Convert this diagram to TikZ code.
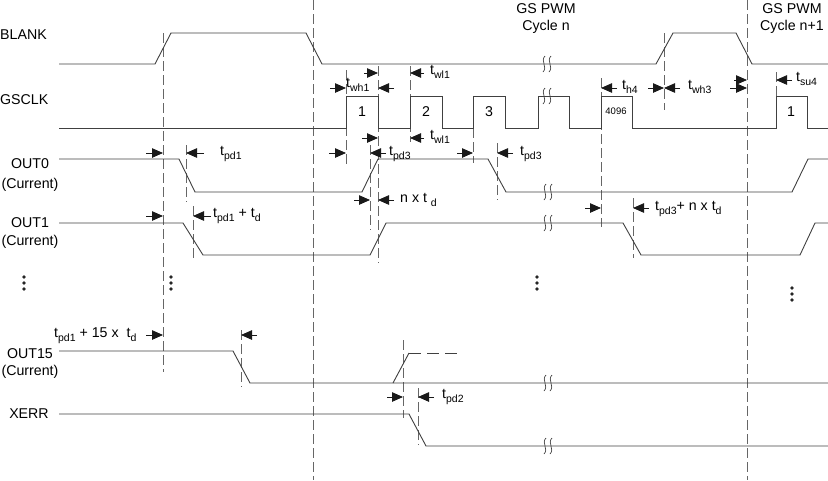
\documentclass[tikz,border=0pt]{standalone}
\usepackage{fontspec}
\setmainfont{Liberation Sans}
\usetikzlibrary{arrows.meta}

\tikzset{
  sig/.style={line width=0.9pt, black!75},
  tim/.style={line width=0.8pt, black!60, dash pattern=on 10pt off 4pt},
  dim/.style={line width=0.8pt, black!90, -{Triangle[length=11pt,width=9.5pt]}},
  lbl/.style={font=\fontsize{14.2}{17}\selectfont, inner sep=0pt},
  tlbl/.style={lbl, anchor=west},
}
\newcommand{\tsub}[1]{\raisebox{-0.3em}{\fontsize{10.5}{12}\selectfont #1}}
\newcommand{\gsbreak}[1]{%
  \foreach \d in {-3,3}
  {\draw[sig, line width=0.7pt, shift={(#1)}, xshift=\d pt] (1,-8) .. controls (-4,-3) and (4,3) .. (-1,8);}}

\begin{document}
\begin{tikzpicture}[x=1pt,y=-1pt]
\useasboundingbox (0,0) rectangle (828,480);

% timing references
\draw[tim] (163,33) -- (163,372);
\draw[tim] (313,0) -- (313,480);
\draw[tim] (747,0) -- (747,480);
\draw[tim] (664,33) -- (664,110);
\draw[tim] (186,145) -- (186,202);
\draw[tim] (193,206) -- (193,258);
\draw[tim] (346,70) -- (346,165);
\draw[tim] (378,66) -- (378,263);
\draw[tim] (410,66) -- (410,142);
\draw[tim] (370,145) -- (370,230);
\draw[tim] (473,128) -- (473,163);
\draw[tim] (497,143) -- (497,200);
\draw[tim] (601,78) -- (601,227);
\draw[tim] (633,198) -- (633,258);
\draw[tim] (776,72) -- (776,96);
\draw[tim] (241,330) -- (241,387);
\draw[tim] (403,340) -- (403,418);
\draw[tim] (418,388) -- (418,445);

% signals
\draw[sig] (59,64) -- (155,64) -- (171,33) -- (306,33) -- (322,64) -- (656,64) -- (673,33) -- (736,33) -- (752,64) -- (828,64);
\draw[sig] (59,128) -- (346,128) -- (346,96) -- (378,96) -- (378,128) -- (410,128) -- (410,96) -- (442,96) -- (442,128)
  -- (473,128) -- (473,96) -- (505,96) -- (505,128) -- (538,128) -- (538,96) -- (569,96) -- (569,128) -- (601,128)
  -- (601,96) -- (632,96) -- (632,128) -- (776,128) -- (776,96) -- (807,96) -- (807,128) -- (828,128);
\draw[sig] (59,159) -- (179,159) -- (195,192) -- (362,192) -- (378,159) -- (488,159) -- (506,192) -- (792,192) -- (808,159) -- (828,159);
\draw[sig] (59,223) -- (183,223) -- (203,255) -- (370,255) -- (386,223) -- (623,223) -- (641,255) -- (800,255) -- (815,223) -- (828,223);
\draw[sig] (59,351) -- (233,351) -- (250,383) -- (828,383);
\draw[sig] (393,383) -- (409,353);
\draw[sig, dash pattern=on 12pt off 6pt] (409,353) -- (462,353);
\draw[sig] (59,414) -- (409,414) -- (426,446) -- (828,446);

\foreach \p in {{547,64},{547,96},{548,192},{548,223},{548,383},{548,446}}
  {\gsbreak{\p}}

% dots
\foreach \x/\y in {24/277,171/277,537/277,792/288}
  \foreach \k in {0,6,12}
    \fill[black!85] (\x,{\y+\k}) circle (1.9);

% signal names
\node[lbl, anchor=west] (blank) at (0,35) {BLANK};
\node[lbl, anchor=west] (gsclk) at (0,100) {GSCLK};
\node[lbl] (out0) at (30,164) {OUT0};
\node[lbl] (out0c) at (30,185) {(Current)};
\node[lbl] (out1) at (30,223) {OUT1};
\node[lbl] (out1c) at (30,242) {(Current)};
\node[lbl] (out15) at (30,354) {OUT15};
\node[lbl] (out15c) at (30,372) {(Current)};
\node[lbl] (xerr) at (29,414) {XERR};
\node[lbl, align=center] (cyclen) at (546,19) {GS PWM\\Cycle n};
\node[lbl, align=center] (cyclen1) at (792,19) {GS PWM\\Cycle n+1};

% clock numbers
\node[lbl] (c1) at (362,112) {1};
\node[lbl] (c2) at (426,112) {2};
\node[lbl] (c3) at (489,112) {3};
\node[lbl, font=\fontsize{9.5}{11}\selectfont] (c4096) at (616,111) {4096};
\node[lbl] (c1b) at (791,112) {1};

% timing arrows
\draw[dim] (146,153) -- (163,153);
\draw[dim] (204,153) -- (186,153);
\draw[dim] (146,216) -- (163,216);
\draw[dim] (211,216) -- (193,216);
\draw[dim] (330,88) -- (346,88);
\draw[dim] (394,88) -- (378,88);
\draw[dim] (364,73) -- (378,73);
\draw[dim] (424,73) -- (410,73);
\draw[dim] (362,138) -- (378,138);
\draw[dim] (424,138) -- (410,138);
\draw[dim] (329,153) -- (346,153);
\draw[dim] (386,153) -- (370,153);
\draw[dim] (457,153) -- (473,153);
\draw[dim] (513,153) -- (497,153);
\draw[dim] (354,200) -- (370,200);
\draw[dim] (394,200) -- (378,200);
\draw[dim] (585,208) -- (601,208);
\draw[dim] (649,208) -- (633,208);
\draw[dim] (617,88) -- (601,88);
\draw[dim] (648,88) -- (664,88);
\draw[dim] (680,88) -- (664,88);
\draw[dim] (730,88) -- (747,88);
\draw[dim] (734,80) -- (747,80);
\draw[dim] (792,80) -- (776,80);
\draw[dim] (146,335) -- (163,335);
\draw[dim] (257,335) -- (241,335);
\draw[dim] (387,397) -- (403,397);
\draw[dim] (434,397) -- (418,397);

% timing labels
\node[tlbl] (tpd1) at (220,154) {t\tsub{pd1}};
\node[tlbl] (tpd1d) at (213,216) {t\tsub{pd1} + t\tsub{d}};
\node[tlbl] (twh1) at (346,85) {t\tsub{wh1}};
\node[tlbl] (twl1a) at (430,72) {t\tsub{wl1}};
\node[tlbl] (twl1b) at (430,137) {t\tsub{wl1}};
\node[tlbl] (tpd3a) at (389,154) {t\tsub{pd3}};
\node[tlbl] (tpd3b) at (520,154) {t\tsub{pd3}};
\node[tlbl] (ntd) at (400,200) {n x t \tsub{d}};
\node[tlbl] (tpd3n) at (655,209) {t\tsub{pd3}+ n x t\tsub{d}};
\node[tlbl] (th4) at (622,87) {t\tsub{h4}};
\node[tlbl] (twh3) at (688,87) {t\tsub{wh3}};
\node[tlbl] (tsu4) at (796,79) {t\tsub{su4}};
\node[tlbl] (tpd15) at (54,336) {t\tsub{pd1} + 15 x\ \ t\tsub{d}};
\node[tlbl] (tpd2) at (442,397) {t\tsub{pd2}};
\end{tikzpicture}
\end{document}
